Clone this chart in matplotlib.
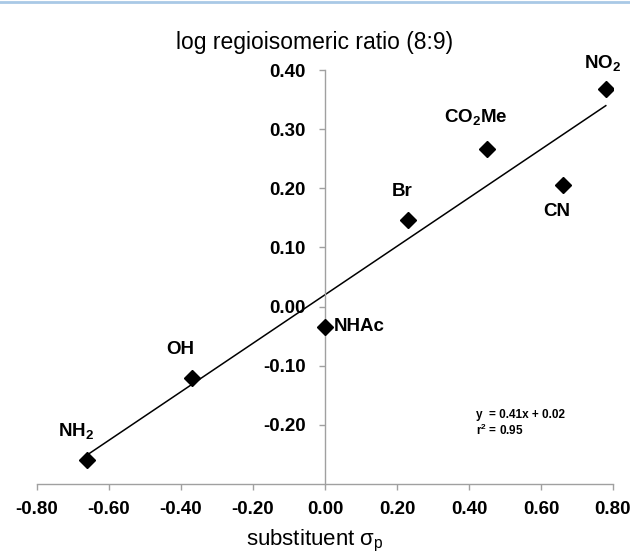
import numpy as np
import matplotlib
matplotlib.use("Agg")
import matplotlib.pyplot as plt

plt.rcParams['font.family'] = ['Liberation Sans', 'DejaVu Sans']
plt.rcParams['mathtext.fontset'] = 'custom'
plt.rcParams['mathtext.rm'] = 'Liberation Sans'
plt.rcParams['mathtext.bf'] = 'Liberation Sans:bold'
plt.rcParams['mathtext.it'] = 'Liberation Sans:italic'

# substituent data (sigma_p vs log ratio)
substituents = ['NH$_\\mathbf{2}$', 'OH', 'NHAc', 'Br', 'CO$_\\mathbf{2}$Me', 'CN', 'NO$_\\mathbf{2}$']
sigma_p = [-0.66, -0.37, 0.00, 0.23, 0.45, 0.66, 0.78]
log_ratio = [-0.26, -0.12, -0.034, 0.147, 0.266, 0.206, 0.368]

# fit shown on chart
slope = 0.41
intercept = 0.02
r2 = 0.95

xticks = [-0.8, -0.6, -0.4, -0.2, 0.0, 0.2, 0.4, 0.6, 0.8]
yticks = [-0.2, -0.1, 0.0, 0.1, 0.2, 0.3, 0.4]

fig = plt.figure(figsize=(6.3, 5.56), dpi=100)
ax = fig.add_axes([0.0587, 0.1295, 0.9143, 0.7445])

ax.set_xlim(-0.8, 0.8)
ax.set_ylim(-0.3, 0.4)

# regression line over data range
xl = np.array([min(sigma_p), max(sigma_p)])
ax.plot(xl, slope * xl + intercept, color='black', lw=1.1, zorder=2)

ax.plot(sigma_p, log_ratio, 'D', color='black', ms=8, zorder=3)

# point labels (offsets in points)
offsets = [(-8, 21), (-8, 20), (6.5, 0), (-4, 20), (-8, 23), (-4, -19), (-2, 19)]
aligns = ['center', 'center', 'left', 'center', 'center', 'center', 'center']
for name, x, y, off, ha in zip(substituents, sigma_p, log_ratio, offsets, aligns):
    ax.annotate(name, (x, y), xytext=off, textcoords='offset points',
                ha=ha, va='center', fontsize=13.5, fontweight='bold')

# spines: y-axis through x=0, x-axis at bottom
ax.spines['left'].set_position(('data', 0))
ax.spines['right'].set_visible(False)
ax.spines['top'].set_visible(False)
for s in ['left', 'bottom']:
    ax.spines[s].set_color('#a0a0a0')
    ax.spines[s].set_linewidth(1.0)

ax.set_xticks(xticks)
ax.set_yticks(yticks)
ax.set_xticklabels(['%.2f' % v for v in xticks], fontsize=13.5, fontweight='bold')
ax.set_yticklabels(['%.2f' % v for v in yticks], fontsize=13.5, fontweight='bold')
ax.tick_params(axis='both', colors='#a0a0a0', length=4, width=1.0, direction='out')
ax.tick_params(axis='x', labelcolor='black', pad=8)
ax.tick_params(axis='y', labelcolor='black', pad=10)

fig.text(0.5, 1 - 541 / 556, 'substituent σ$_\\mathrm{p}$', ha='center', va='center', fontsize=16)
fig.text(0.5, 1 - 42 / 556, 'log regioisomeric ratio (8:9)', ha='center', va='center', fontsize=16.5)

# equation text
ax.text(0.42, -0.184, 'y  = %.2fx + %.2f' % (slope, intercept), fontsize=8.5, fontweight='bold', va='center')
ax.text(0.42, -0.209, 'r$^\\mathbf{2}$ = %.2f' % r2, fontsize=8.5, fontweight='bold', va='center')

# thin blue rule at top of the figure
fig.add_artist(plt.Line2D([0, 1], [0.997, 0.997], color='#a9c9e6', lw=2, transform=fig.transFigure))

fig.savefig('out.png', dpi=100)
